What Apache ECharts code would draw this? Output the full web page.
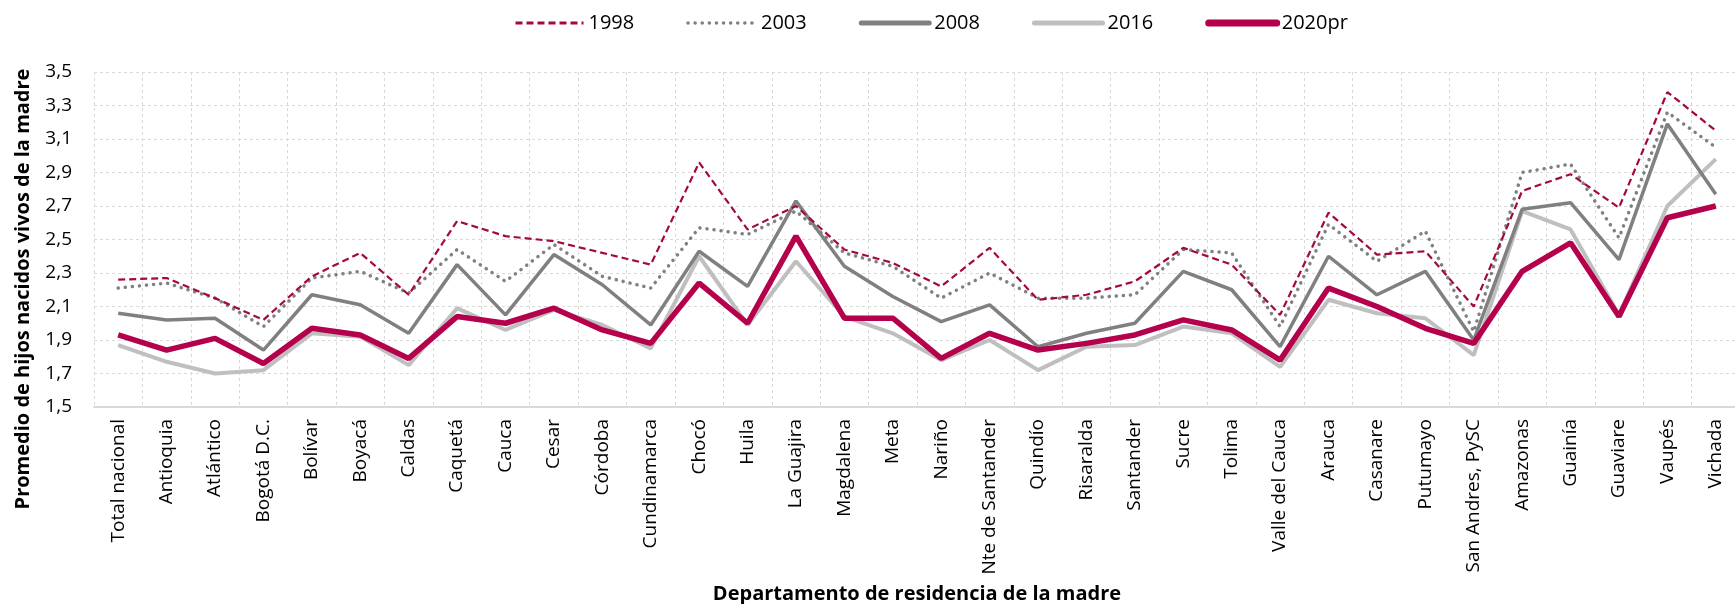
<!DOCTYPE html>
<html>
<head>
<meta charset="utf-8">
<script src="https://cdn.jsdelivr.net/npm/echarts@6/dist/echarts.min.js"></script>
<style>
  html, body { margin: 0; padding: 0; background: #fff; }
  #chart { width: 1735px; height: 604px; }
</style>
</head>
<body>
<div id="chart"></div>
<script>
// departamentos (eje x)
var departamentos = ['Total nacional', 'Antioquia', 'Atlántico', 'Bogotá D.C.', 'Bolívar', 'Boyacá', 'Caldas',
  'Caquetá', 'Cauca', 'Cesar', 'Córdoba', 'Cundinamarca', 'Chocó', 'Huila', 'La Guajira', 'Magdalena', 'Meta',
  'Nariño', 'Nte de Santander', 'Quindío', 'Risaralda', 'Santander', 'Sucre', 'Tolima', 'Valle del Cauca',
  'Arauca', 'Casanare', 'Putumayo', 'San Andres, PySC', 'Amazonas', 'Guainía', 'Guaviare', 'Vaupés', 'Vichada'];

// promedio de hijos por año
var v1998 = [2.26, 2.27, 2.15, 2.02, 2.28, 2.42, 2.17, 2.61, 2.52, 2.49, 2.42, 2.35, 2.96, 2.56, 2.70, 2.44, 2.36,
  2.22, 2.45, 2.14, 2.17, 2.25, 2.45, 2.35, 2.05, 2.66, 2.41, 2.43, 2.10, 2.79, 2.89, 2.69, 3.38, 3.15];
var v2003 = [2.21, 2.24, 2.15, 1.98, 2.27, 2.31, 2.18, 2.44, 2.25, 2.47, 2.28, 2.21, 2.57, 2.53, 2.67, 2.42, 2.34,
  2.15, 2.30, 2.15, 2.15, 2.17, 2.44, 2.42, 1.98, 2.59, 2.37, 2.55, 1.95, 2.90, 2.95, 2.51, 3.26, 3.05];
var v2008 = [2.06, 2.02, 2.03, 1.84, 2.17, 2.11, 1.94, 2.35, 2.05, 2.41, 2.23, 1.99, 2.43, 2.22, 2.73, 2.34, 2.16,
  2.01, 2.11, 1.86, 1.94, 2.00, 2.31, 2.20, 1.86, 2.40, 2.17, 2.31, 1.90, 2.68, 2.72, 2.38, 3.19, 2.77];
var v2016 = [1.87, 1.77, 1.70, 1.72, 1.94, 1.92, 1.75, 2.09, 1.96, 2.08, 1.99, 1.85, 2.40, 1.99, 2.37, 2.04, 1.94,
  1.78, 1.90, 1.72, 1.86, 1.87, 1.98, 1.94, 1.74, 2.14, 2.06, 2.03, 1.81, 2.67, 2.56, 2.05, 2.70, 2.98];
var v2020 = [1.93, 1.84, 1.91, 1.76, 1.97, 1.93, 1.79, 2.04, 2.00, 2.09, 1.96, 1.88, 2.24, 2.00, 2.52, 2.03, 2.03,
  1.79, 1.94, 1.84, 1.88, 1.93, 2.02, 1.96, 1.78, 2.21, 2.10, 1.97, 1.88, 2.31, 2.48, 2.04, 2.63, 2.70];

var fuente = 'Open Sans';

var chart = echarts.init(document.getElementById('chart'));

var option = {
  animation: false,
  textStyle: { fontFamily: fuente },
  legend: {
    top: 8,
    left: 509,
    itemWidth: 68,
    itemHeight: 14,
    itemGap: 52,
    itemStyle: { opacity: 0 },
    textStyle: { fontSize: 20, color: '#000', fontFamily: fuente },
    data: [
      { name: '1998', lineStyle: { width: 3 } },
      { name: '2003', lineStyle: { width: 3.5 } },
      { name: '2008', lineStyle: { width: 5, cap: 'round' } },
      { name: '2016', lineStyle: { width: 5, cap: 'round' } },
      { name: '2020pr', lineStyle: { width: 7, cap: 'round' } }
    ]
  },
  grid: { left: 94, top: 72, width: 1646, height: 335, outerBoundsMode: 'none', containLabel: false },
  xAxis: {
    type: 'category',
    data: departamentos,
    boundaryGap: true,
    name: 'Departamento de residencia de la madre',
    nameLocation: 'middle',
    nameGap: 177,
    nameMoveOverlap: false,
    nameTextStyle: { fontSize: 20, fontWeight: 'bold', color: '#000', fontFamily: fuente },
    axisLine: { lineStyle: { color: '#d9d9d9', width: 2 } },
    axisTick: { show: false },
    axisLabel: { rotate: 90, interval: 0, margin: 12, fontSize: 19, color: '#000', fontFamily: fuente },
    splitLine: { show: true, lineStyle: { type: [3, 3], color: '#d9d9d9', width: 1 } }
  },
  yAxis: {
    type: 'value',
    min: 1.5,
    max: 3.5,
    interval: 0.2,
    axisLine: { show: false },
    axisTick: { show: false },
    axisLabel: {
      margin: 22,
      fontSize: 19,
      color: '#000',
      fontFamily: fuente,
      formatter: function (v) { return v.toFixed(1).replace('.', ','); }
    },
    splitLine: { lineStyle: { type: [3, 3], color: '#d9d9d9', width: 1 } }
  },
  graphic: [{
    type: 'text',
    x: 23,
    y: 289,
    rotation: Math.PI / 2,
    style: {
      text: 'Promedio de hijos nacidos vivos de la madre',
      fontSize: 20,
      fontWeight: 'bold',
      fontFamily: fuente,
      fill: '#000',
      align: 'center',
      verticalAlign: 'middle'
    }
  }],
  series: [
    { name: '1998', type: 'line', data: v1998, symbol: 'none', z: 3,
      lineStyle: { color: '#a3093f', width: 2.2, type: [7, 4] }, itemStyle: { color: '#a3093f' } },
    { name: '2003', type: 'line', data: v2003, symbol: 'none', z: 2,
      lineStyle: { color: '#808080', width: 3.5, type: [0.1, 7], cap: 'round' }, itemStyle: { color: '#808080' } },
    { name: '2008', type: 'line', data: v2008, symbol: 'none', z: 2,
      lineStyle: { color: '#808080', width: 3.5 }, itemStyle: { color: '#808080' } },
    { name: '2016', type: 'line', data: v2016, symbol: 'none', z: 1,
      lineStyle: { color: '#bfbfbf', width: 4 }, itemStyle: { color: '#bfbfbf' } },
    { name: '2020pr', type: 'line', data: v2020, symbol: 'none', z: 4,
      lineStyle: { color: '#b5004b', width: 5.5 }, itemStyle: { color: '#b5004b' } }
  ]
};

chart.setOption(option);
</script>
</body>
</html>
